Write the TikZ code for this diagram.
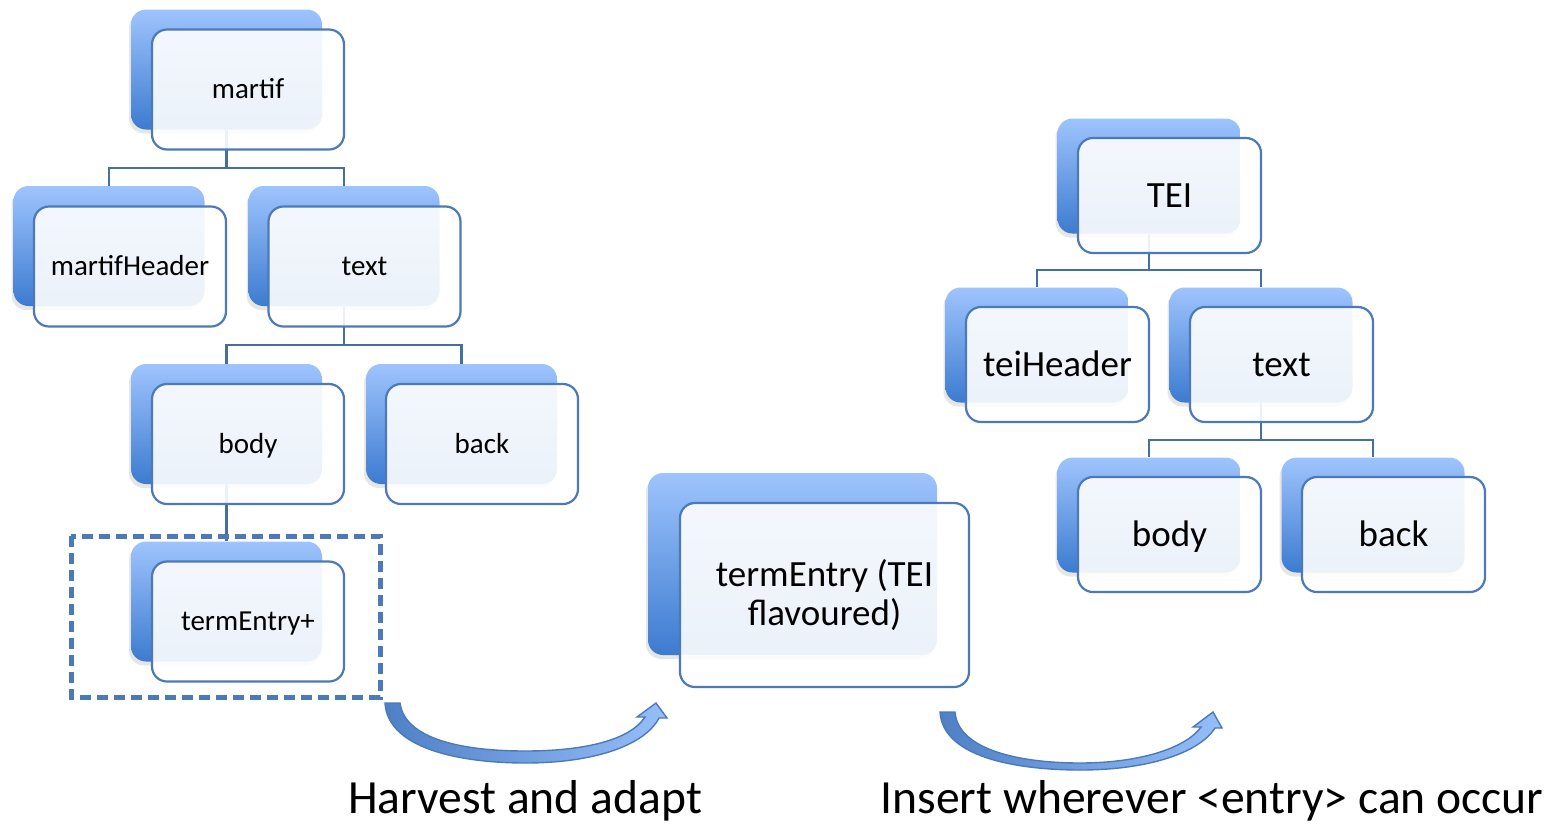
\documentclass[tikz,border=0pt]{standalone}
\usepackage{fontspec}
\setmainfont{Carlito}
\usepackage{tikz}
\usetikzlibrary{shadows}

\definecolor{boxtop}{HTML}{9EC4FD}
\definecolor{boxbot}{HTML}{3D7BD0}
\definecolor{boxline}{HTML}{4C7AB8}
\definecolor{linkline}{HTML}{41719C}
\definecolor{arrowdark}{HTML}{4F80C6}
\definecolor{arrowlight}{HTML}{96BEF9}

\begin{document}
\begin{tikzpicture}[x=1pt, y=-1pt,
  backbox/.style={rounded corners=15pt, top color=boxtop, bottom color=boxbot, draw=none,
    inner sep=0pt, drop shadow={opacity=0.2, shadow xshift=-2pt, shadow yshift=-4pt}},
  frontbox/.style={rounded corners=15pt, draw=boxline, line width=2.2pt, fill=white,
    fill opacity=0.9, text opacity=1, inner sep=0pt, align=center},
  small/.style={minimum width=#1, minimum height=120pt, font=\fontsize{29}{35}\selectfont},
  large/.style={minimum width=183pt, minimum height=115pt, font=\fontsize{37}{39}\selectfont},
  smallline/.style={text height=24pt, text depth=6pt},
  largeline/.style={text height=30pt, text depth=7pt},
  link/.style={draw=linkline, line width=2.4pt},
  bigarrow/.style={draw=boxline, line width=1.4pt, left color=arrowdark, right color=arrowlight},
  caption/.style={anchor=base, font=\fontsize{47.6}{50}\selectfont}]

\useasboundingbox (0,0) rectangle (1566,823);

\node[backbox, small=191pt] (martifB) at (226.5,69.5) {};
\node[backbox, small=191pt] (mheadB) at (109,246) {};
\node[backbox, small=191pt] (textB) at (344,246) {};
\node[backbox, small=191pt] (bodyB) at (226.5,424) {};
\node[backbox, small=191pt] (backB) at (461.5,424) {};
\node[backbox, small=191pt] (tentryB) at (226.5,601.5) {};

\node[backbox, large] (teiB) at (1149,176) {};
\node[backbox, large] (teiheadB) at (1037,345) {};
\node[backbox, large] (ttextB) at (1261,345) {};
\node[backbox, large] (tbodyB) at (1149,515) {};
\node[backbox, large] (tbackB) at (1373,515) {};

\node[backbox, minimum width=289pt, minimum height=182pt] (flavB) at (792.5,564) {};

\draw[link] (martifB.south) -- ++(0,38) -| (mheadB.north);
\draw[link] (martifB.south) -- ++(0,38) -| (textB.north);
\draw[link] (textB.south) -- ++(0,39) -| (bodyB.north);
\draw[link] (textB.south) -- ++(0,39) -| (backB.north);
\draw[link] (bodyB.south) -- (tentryB.north);

\draw[link] (teiB.south) -- ++(0,36) -| (teiheadB.north);
\draw[link] (teiB.south) -- ++(0,36) -| (ttextB.north);
\draw[link] (ttextB.south) -- ++(0,37) -| (tbodyB.north);
\draw[link] (ttextB.south) -- ++(0,37) -| (tbackB.north);

\node[frontbox, small=192pt, smallline] (martif) at (248,89.5) {martif};
\node[frontbox, small=192pt, smallline] (mhead) at (130,266.5) {martifHeader};
\node[frontbox, small=192pt, smallline] (text) at (364.5,266.5) {text};
\node[frontbox, small=192pt, smallline] (body) at (248,444) {body};
\node[frontbox, small=192pt, smallline] (back) at (482,444) {back};
\node[frontbox, small=192pt, smallline] (tentry) at (248,621.5) {termEntry+};

\node[frontbox, large, largeline] (tei) at (1169.5,195.5) {TEI};
\node[frontbox, large, largeline] (teihead) at (1057.5,364.5) {teiHeader};
\node[frontbox, large, largeline] (ttext) at (1281.5,364.5) {text};
\node[frontbox, large, largeline] (tbody) at (1169.5,534.5) {body};
\node[frontbox, large, largeline] (tback) at (1393.5,534.5) {back};

\node[frontbox, large, minimum width=289pt, minimum height=184pt] (flav) at (824.5,595) {termEntry (TEI\\flavoured)};

\draw[draw=boxline, line width=5pt, dash pattern=on 11pt off 6pt] (71,536) rectangle (380,697);

\draw[bigarrow] (385,703) .. controls (388,752) and (470,763) .. (525,763)
  .. controls (595,763) and (645,745) .. (659,718) -- (667,718) -- (656,703) -- (637,717) -- (645,717)
  .. controls (630,740) and (585,751) .. (525,751) .. controls (465,751) and (405,740) .. (400,703) -- cycle;
\draw[bigarrow] (940,712) .. controls (943,760) and (1025,770) .. (1080,770)
  .. controls (1150,770) and (1200,752) .. (1215,728) -- (1222,728) -- (1213,712) -- (1193,727) -- (1201,727)
  .. controls (1186,748) and (1140,763) .. (1080,763) .. controls (1020,763) and (958,750) .. (955,712) -- cycle;

\node[caption] (harvest) at (525,813) {Harvest and adapt};
\node[caption] (insert) at (1212,813) {Insert wherever <entry> can occur};

\end{tikzpicture}
\end{document}
